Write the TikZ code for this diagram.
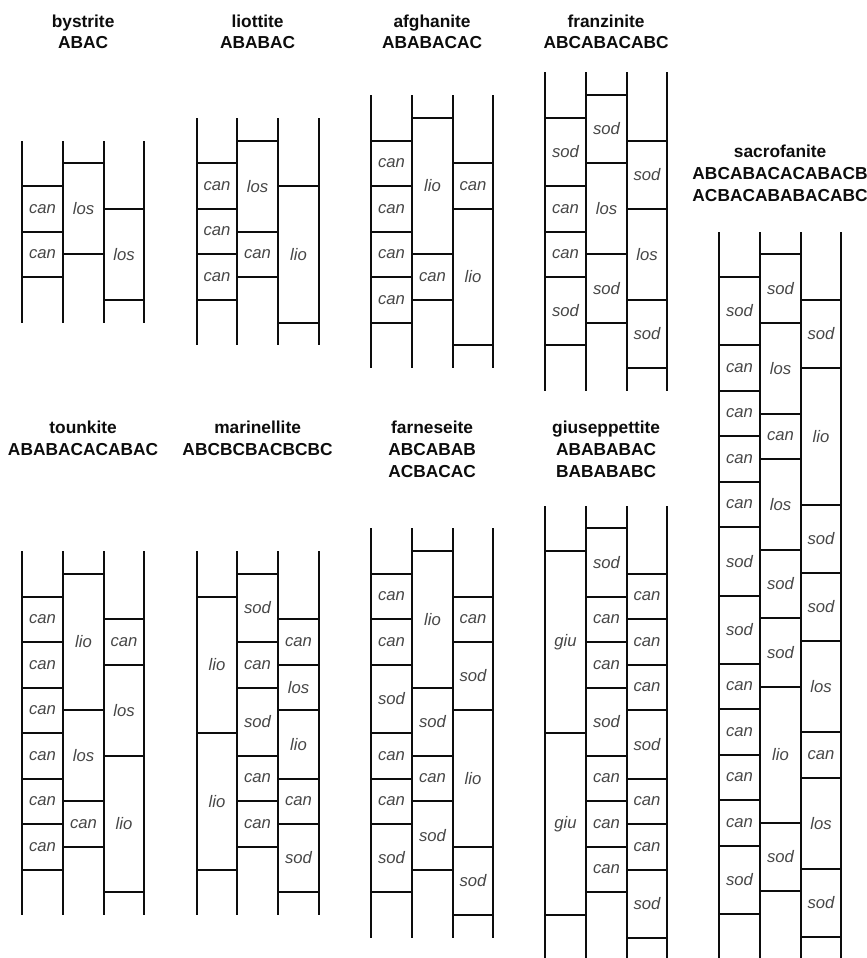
\documentclass[tikz,border=0pt]{standalone}
\usepackage{fontspec}
\setmainfont{Liberation Sans}
\newcommand\cw{40.75}
\newcommand\hu{22.75}
\tikzset{
  rail/.style={line width=1.6pt, draw=black!95},
  rung/.style={line width=1.6pt, draw=black!95},
  cage/.style={font=\fontsize{12.5}{14}\selectfont\itshape, text=black!72, inner sep=0pt},
  title/.style={font=\fontsize{13}{15}\selectfont\bfseries, text=black!95, anchor=base, inner sep=0pt},
}
% cell: name, x0, column, y0, n1, n2, label
\newcommand\cg[7]{%
  \pgfmathsetmacro\xa{round(#2+#3*\cw)}%
  \pgfmathsetmacro\xb{round(#2+(#3+1)*\cw)}%
  \pgfmathsetmacro\ya{round(#4+#5*\hu)}%
  \pgfmathsetmacro\yb{round(#4+#6*\hu)}%
  \draw[rung] (\xa,\ya) -- (\xb,\ya);
  \draw[rung] (\xa,\yb) -- (\xb,\yb);
  \node[cage] (#1) at ({(\xa+\xb)/2},{(\ya+\yb)/2}) {#7};
}
% frame: x0, y0, n1, n2
\newcommand\frm[4]{%
  \foreach \j in {0,1,2,3} {%
    \pgfmathsetmacro\xr{round(#1+\j*\cw)}%
    \pgfmathsetmacro\yt{round(#2+#3*\hu)}%
    \pgfmathsetmacro\ybt{round(#2+#4*\hu)}%
    \draw[rail] (\xr,\yt) -- (\xr,\ybt);}%
}
\begin{document}
\begin{tikzpicture}[x=0.75pt,y=-0.75pt]
\useasboundingbox (0,0) rectangle (867,958);
\fill[white] (0,0) rectangle (867,958);

%% ---------- top row ----------
\def\Y{72.3}
% bystrite
\node[title] (byt) at (83.1,27) {bystrite};
\node[title] (bys) at (83.1,48.5) {ABAC};
\frm{22}{\Y}{3}{11}
\cg{by1}{22}{0}{\Y}{5}{7}{can}
\cg{by2}{22}{0}{\Y}{7}{9}{can}
\cg{by3}{22}{1}{\Y}{4}{8}{los}
\cg{by4}{22}{2}{\Y}{6}{10}{los}

% liottite
\node[title] (lit) at (257.6,27) {liottite};
\node[title] (lis) at (257.6,48.5) {ABABAC};
\frm{196.5}{\Y}{2}{12}
\cg{li1}{196.5}{0}{\Y}{4}{6}{can}
\cg{li2}{196.5}{0}{\Y}{6}{8}{can}
\cg{li3}{196.5}{0}{\Y}{8}{10}{can}
\cg{li4}{196.5}{1}{\Y}{3}{7}{los}
\cg{li5}{196.5}{1}{\Y}{7}{9}{can}
\cg{li6}{196.5}{2}{\Y}{5}{11}{lio}

% afghanite
\node[title] (aft) at (432.1,27) {afghanite};
\node[title] (afs) at (432.1,48.5) {ABABACAC};
\frm{371}{\Y}{1}{13}
\cg{af1}{371}{0}{\Y}{3}{5}{can}
\cg{af2}{371}{0}{\Y}{5}{7}{can}
\cg{af3}{371}{0}{\Y}{7}{9}{can}
\cg{af4}{371}{0}{\Y}{9}{11}{can}
\cg{af5}{371}{1}{\Y}{2}{8}{lio}
\cg{af6}{371}{1}{\Y}{8}{10}{can}
\cg{af7}{371}{2}{\Y}{4}{6}{can}
\cg{af8}{371}{2}{\Y}{6}{12}{lio}

% franzinite
\node[title] (frt) at (606.1,27) {franzinite};
\node[title] (frs) at (606.1,48.5) {ABCABACABC};
\frm{545}{\Y}{0}{14}
\cg{fr1}{545}{0}{\Y}{2}{5}{sod}
\cg{fr2}{545}{0}{\Y}{5}{7}{can}
\cg{fr3}{545}{0}{\Y}{7}{9}{can}
\cg{fr4}{545}{0}{\Y}{9}{12}{sod}
\cg{fr5}{545}{1}{\Y}{1}{4}{sod}
\cg{fr6}{545}{1}{\Y}{4}{8}{los}
\cg{fr7}{545}{1}{\Y}{8}{11}{sod}
\cg{fr8}{545}{2}{\Y}{3}{6}{sod}
\cg{fr9}{545}{2}{\Y}{6}{10}{los}
\cg{fr10}{545}{2}{\Y}{10}{13}{sod}

%% ---------- sacrofanite ----------
\def\S{254.3}
\node[title] (sat) at (780.1,157.5) {sacrofanite};
\node[title] (sas) at (780.1,179.5) {ABCABACACABACB};
\node[title] (sau) at (780.1,201.5) {ACBACABABACABC};
\frm{719}{\S}{-1}{31}
\cg{sa1}{719}{0}{\S}{1}{4}{sod}
\cg{sa2}{719}{0}{\S}{4}{6}{can}
\cg{sa3}{719}{0}{\S}{6}{8}{can}
\cg{sa4}{719}{0}{\S}{8}{10}{can}
\cg{sa5}{719}{0}{\S}{10}{12}{can}
\cg{sa6}{719}{0}{\S}{12}{15}{sod}
\cg{sa7}{719}{0}{\S}{15}{18}{sod}
\cg{sa8}{719}{0}{\S}{18}{20}{can}
\cg{sa9}{719}{0}{\S}{20}{22}{can}
\cg{sa10}{719}{0}{\S}{22}{24}{can}
\cg{sa11}{719}{0}{\S}{24}{26}{can}
\cg{sa12}{719}{0}{\S}{26}{29}{sod}
\cg{sa13}{719}{1}{\S}{0}{3}{sod}
\cg{sa14}{719}{1}{\S}{3}{7}{los}
\cg{sa15}{719}{1}{\S}{7}{9}{can}
\cg{sa16}{719}{1}{\S}{9}{13}{los}
\cg{sa17}{719}{1}{\S}{13}{16}{sod}
\cg{sa18}{719}{1}{\S}{16}{19}{sod}
\cg{sa19}{719}{1}{\S}{19}{25}{lio}
\cg{sa20}{719}{1}{\S}{25}{28}{sod}
\cg{sa21}{719}{2}{\S}{2}{5}{sod}
\cg{sa22}{719}{2}{\S}{5}{11}{lio}
\cg{sa23}{719}{2}{\S}{11}{14}{sod}
\cg{sa24}{719}{2}{\S}{14}{17}{sod}
\cg{sa25}{719}{2}{\S}{17}{21}{los}
\cg{sa26}{719}{2}{\S}{21}{23}{can}
\cg{sa27}{719}{2}{\S}{23}{27}{los}
\cg{sa28}{719}{2}{\S}{27}{30}{sod}

%% ---------- bottom row ----------
\def\B{505.5}
% tounkite
\node[title] (tot) at (83.1,433) {tounkite};
\node[title] (tos) at (83.1,455) {ABABACACABAC};
\frm{22}{\B}{2}{18}
\cg{to1}{22}{0}{\B}{4}{6}{can}
\cg{to2}{22}{0}{\B}{6}{8}{can}
\cg{to3}{22}{0}{\B}{8}{10}{can}
\cg{to4}{22}{0}{\B}{10}{12}{can}
\cg{to5}{22}{0}{\B}{12}{14}{can}
\cg{to6}{22}{0}{\B}{14}{16}{can}
\cg{to7}{22}{1}{\B}{3}{9}{lio}
\cg{to8}{22}{1}{\B}{9}{13}{los}
\cg{to9}{22}{1}{\B}{13}{15}{can}
\cg{to10}{22}{2}{\B}{5}{7}{can}
\cg{to11}{22}{2}{\B}{7}{11}{los}
\cg{to12}{22}{2}{\B}{11}{17}{lio}

% marinellite
\node[title] (mat) at (257.6,433) {marinellite};
\node[title] (mas) at (257.6,455) {ABCBCBACBCBC};
\frm{196.5}{\B}{2}{18}
\cg{ma1}{196.5}{0}{\B}{4}{10}{lio}
\cg{ma2}{196.5}{0}{\B}{10}{16}{lio}
\cg{ma3}{196.5}{1}{\B}{3}{6}{sod}
\cg{ma4}{196.5}{1}{\B}{6}{8}{can}
\cg{ma5}{196.5}{1}{\B}{8}{11}{sod}
\cg{ma6}{196.5}{1}{\B}{11}{13}{can}
\cg{ma7}{196.5}{1}{\B}{13}{15}{can}
\cg{ma8}{196.5}{2}{\B}{5}{7}{can}
\cg{ma9}{196.5}{2}{\B}{7}{9}{los}
\cg{ma10}{196.5}{2}{\B}{9}{12}{lio}
\cg{ma11}{196.5}{2}{\B}{12}{14}{can}
\cg{ma12}{196.5}{2}{\B}{14}{17}{sod}

% farneseite
\node[title] (fat) at (432.1,433) {farneseite};
\node[title] (fas) at (432.1,455) {ABCABAB};
\node[title] (fau) at (432.1,477) {ACBACAC};
\frm{371}{\B}{1}{19}
\cg{fa1}{371}{0}{\B}{3}{5}{can}
\cg{fa2}{371}{0}{\B}{5}{7}{can}
\cg{fa3}{371}{0}{\B}{7}{10}{sod}
\cg{fa4}{371}{0}{\B}{10}{12}{can}
\cg{fa5}{371}{0}{\B}{12}{14}{can}
\cg{fa6}{371}{0}{\B}{14}{17}{sod}
\cg{fa7}{371}{1}{\B}{2}{8}{lio}
\cg{fa8}{371}{1}{\B}{8}{11}{sod}
\cg{fa9}{371}{1}{\B}{11}{13}{can}
\cg{fa10}{371}{1}{\B}{13}{16}{sod}
\cg{fa11}{371}{2}{\B}{4}{6}{can}
\cg{fa12}{371}{2}{\B}{6}{9}{sod}
\cg{fa13}{371}{2}{\B}{9}{15}{lio}
\cg{fa14}{371}{2}{\B}{15}{18}{sod}

% giuseppettite
\node[title] (git) at (606.1,433) {giuseppettite};
\node[title] (gis) at (606.1,455) {ABABABAC};
\node[title] (giu) at (606.1,477) {BABABABC};
\frm{545}{\B}{0}{20}
\cg{gi1}{545}{0}{\B}{2}{10}{giu}
\cg{gi2}{545}{0}{\B}{10}{18}{giu}
\cg{gi3}{545}{1}{\B}{1}{4}{sod}
\cg{gi4}{545}{1}{\B}{4}{6}{can}
\cg{gi5}{545}{1}{\B}{6}{8}{can}
\cg{gi6}{545}{1}{\B}{8}{11}{sod}
\cg{gi7}{545}{1}{\B}{11}{13}{can}
\cg{gi8}{545}{1}{\B}{13}{15}{can}
\cg{gi9}{545}{1}{\B}{15}{17}{can}
\cg{gi10}{545}{2}{\B}{3}{5}{can}
\cg{gi11}{545}{2}{\B}{5}{7}{can}
\cg{gi12}{545}{2}{\B}{7}{9}{can}
\cg{gi13}{545}{2}{\B}{9}{12}{sod}
\cg{gi14}{545}{2}{\B}{12}{14}{can}
\cg{gi15}{545}{2}{\B}{14}{16}{can}
\cg{gi16}{545}{2}{\B}{16}{19}{sod}
\end{tikzpicture}
\end{document}
